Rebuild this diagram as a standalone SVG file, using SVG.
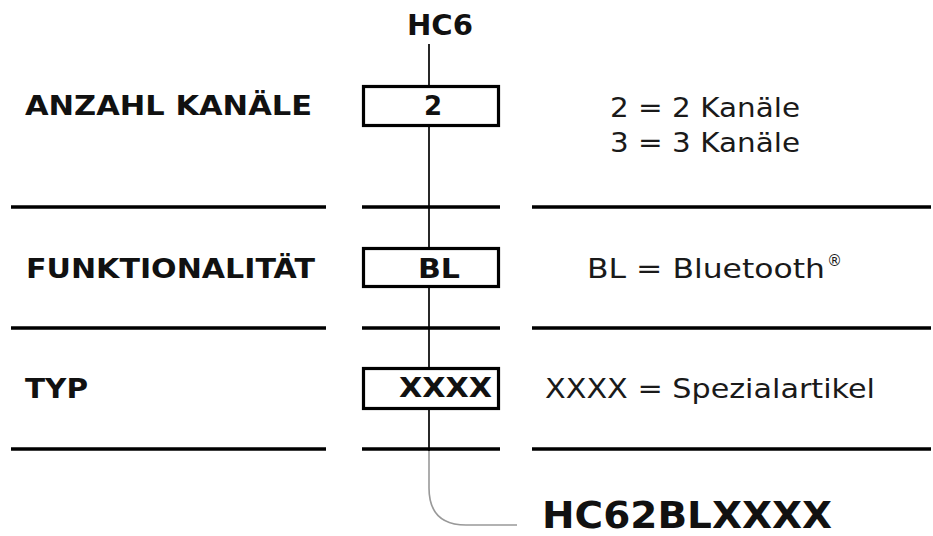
<svg xmlns="http://www.w3.org/2000/svg" width="933" height="536" viewBox="0 0 933 536">
<style>
.b{font-family:"DejaVu Sans","Liberation Sans",sans-serif;font-weight:bold;fill:#111}
.r{font-family:"DejaVu Sans","Liberation Sans",sans-serif;fill:#1a1a1a}
.sep{stroke:#000;stroke-width:3.5}
.box{fill:#fff;stroke:#000;stroke-width:3.2}
.v{stroke:#111;stroke-width:1.8;fill:none}
</style>
<rect width="933" height="536" fill="#fff"/>
<g id="connectors">
<line class="v" x1="429" y1="44" x2="429" y2="451"/>
<path d="M429 451 V488 Q429 525 466 525 H517" fill="none" stroke="#999" stroke-width="1.6"/>
</g>
<g id="separators">
<line class="sep" x1="11" y1="207" x2="326" y2="207"/>
<line class="sep" x1="362" y1="207" x2="500" y2="207"/>
<line class="sep" x1="532" y1="207" x2="931" y2="207"/>
<line class="sep" x1="11" y1="328" x2="326" y2="328"/>
<line class="sep" x1="362" y1="328" x2="500" y2="328"/>
<line class="sep" x1="532" y1="328" x2="931" y2="328"/>
<line class="sep" x1="11" y1="449" x2="326" y2="449"/>
<line class="sep" x1="362" y1="449" x2="500" y2="449"/>
<line class="sep" x1="532" y1="449" x2="931" y2="449"/>
</g>
<g id="title">
<text class="b" x="407" y="35" font-size="28" textLength="66" lengthAdjust="spacingAndGlyphs">HC6</text>
</g>
<g id="row-kanaele">
<text class="b" x="25" y="115" font-size="27" textLength="287" lengthAdjust="spacingAndGlyphs">ANZAHL KANÄLE</text>
<rect class="box" x="363.5" y="86.5" width="135" height="39"/>
<text class="b" x="433" y="115" font-size="26" text-anchor="middle">2</text>
<text class="r" x="610" y="117" font-size="27" textLength="190" lengthAdjust="spacingAndGlyphs">2 = 2 Kanäle</text>
<text class="r" x="610" y="152" font-size="27" textLength="190" lengthAdjust="spacingAndGlyphs">3 = 3 Kanäle</text>
</g>
<g id="row-funktion">
<text class="b" x="26" y="278" font-size="27" textLength="289" lengthAdjust="spacingAndGlyphs">FUNKTIONALITÄT</text>
<rect class="box" x="363.5" y="248.5" width="135" height="38"/>
<text class="b" x="418" y="278" font-size="26" textLength="42" lengthAdjust="spacingAndGlyphs">BL</text>
<text class="r" x="587" y="278" font-size="27" textLength="238" lengthAdjust="spacingAndGlyphs">BL = Bluetooth</text>
<text class="r" x="827" y="266" font-size="15">®</text>
</g>
<g id="row-typ">
<text class="b" x="25" y="398" font-size="27" textLength="63" lengthAdjust="spacingAndGlyphs">TYP</text>
<rect class="box" x="363.5" y="368.5" width="135" height="40"/>
<text class="b" x="399" y="397" font-size="26" textLength="93" lengthAdjust="spacingAndGlyphs">XXXX</text>
<text class="r" x="545" y="398" font-size="27" textLength="330" lengthAdjust="spacingAndGlyphs">XXXX = Spezialartikel</text>
</g>
<g id="result">
<text class="b" x="542" y="528" font-size="37" textLength="290" lengthAdjust="spacingAndGlyphs">HC62BLXXXX</text>
</g>
</svg>
